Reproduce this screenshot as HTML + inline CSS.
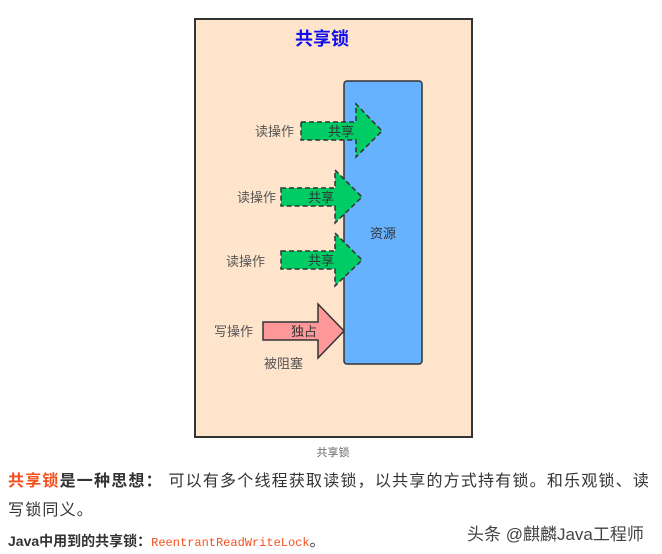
<!DOCTYPE html>
<html><head><meta charset="utf-8"><style>
body{margin:0;width:662px;height:554px;background:#fff;position:relative;overflow:hidden;font-family:"Liberation Sans","Noto Sans CJK SC",sans-serif}
.t{position:absolute;white-space:nowrap}
</style></head><body>
<svg width="662" height="554" style="position:absolute;left:0;top:0" font-family="Liberation Sans, Noto Sans CJK SC, sans-serif">
<rect x="195" y="19" width="277" height="418" fill="#ffe4cc" stroke="#333" stroke-width="2"/>
<text x="322" y="45" text-anchor="middle" font-size="18" font-weight="bold" fill="#1010ee">共享锁</text>
<rect x="344" y="81" width="78" height="283" rx="3" fill="#66b2ff" stroke="#333" stroke-width="1.5"/>
<text x="383" y="238" text-anchor="middle" font-size="13" fill="#333">资源</text>
<g fill="#00cc66" stroke="#333" stroke-width="1.5" stroke-dasharray="5,3">
<path d="M301 122 H356 V104 L382 131 L356 157 V140 H301 Z"/>
<path d="M281 188 H335 V170 L362 197 L335 223 V206 H281 Z"/>
<path d="M281 251 H335 V233 L362 260 L335 286 V269 H281 Z"/>
</g>
<path d="M263 322 H318 V304 L344 331 L318 358 V340 H263 Z" fill="#ff9999" stroke="#333" stroke-width="1.5"/>
<g font-size="13" fill="#333" text-anchor="middle">
<text x="341" y="136">共享</text>
<text x="321" y="202">共享</text>
<text x="321" y="265">共享</text>
<text x="304" y="336">独占</text>
</g>
<g font-size="13" fill="#555">
<text x="255" y="136">读操作</text>
<text x="237" y="202">读操作</text>
<text x="226" y="266">读操作</text>
<text x="214" y="336">写操作</text>
<text x="264" y="368">被阻塞</text>
</g>
<text x="333" y="456" text-anchor="middle" font-size="11" fill="#666">共享锁</text>
</svg>
<div class="t" style="left:8px;top:467px;font-size:16px;letter-spacing:1.2px;color:#333"><b style="color:#f4511e">共享锁</b><b>是一种思想：</b> 可以有多个线程获取读锁，以共享的方式持有锁。和乐观锁、读</div>
<div class="t" style="left:8px;top:496px;font-size:16px;letter-spacing:1.2px;color:#333">写锁同义。</div>
<div class="t" style="left:8px;top:530px;font-size:15px;color:#333"><b style="font-size:14px">Java中用到的共享锁：</b><span style="font-family:'Liberation Mono',monospace;color:#f4511e;font-size:12px">ReentrantReadWriteLock</span>。</div>
<div class="t" style="left:467px;top:520px;font-size:17px;color:#444">头条 @麒麟Java工程师</div>
</body></html>
